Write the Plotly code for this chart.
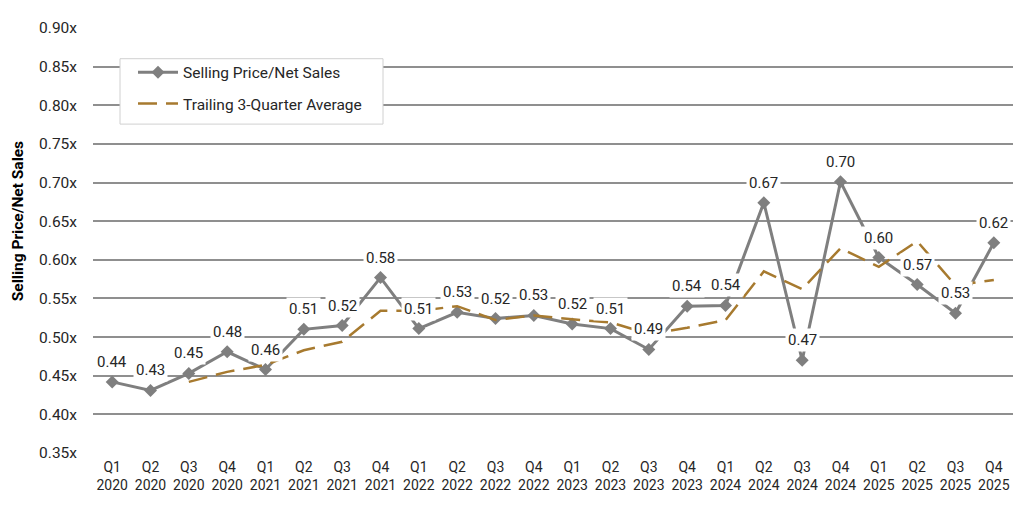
import plotly.graph_objects as go

quarters = ["Q1", "Q2", "Q3", "Q4"] * 6
years = ["2020"] * 4 + ["2021"] * 4 + ["2022"] * 4 + ["2023"] * 4 + ["2024"] * 4 + ["2025"] * 4
categories = [f"{q}<br>{y}" for q, y in zip(quarters, years)]

selling_price = [0.442, 0.431, 0.453, 0.481, 0.458, 0.510, 0.515, 0.577,
                 0.511, 0.532, 0.524, 0.528, 0.517, 0.511, 0.484, 0.540,
                 0.541, 0.674, 0.470, 0.701, 0.603, 0.568, 0.531, 0.622]

trailing_avg = [None, None, 0.442, 0.455, 0.464, 0.483, 0.494, 0.534,
                0.534, 0.540, 0.522, 0.528, 0.523, 0.519, 0.504, 0.512,
                0.522, 0.585, 0.562, 0.615, 0.591, 0.624, 0.567, 0.574]

point_labels = ["0.44", "0.43", "0.45", "0.48", "0.46", "0.51", "0.52", "0.58",
                "0.51", "0.53", "0.52", "0.53", "0.52", "0.51", "0.49", "0.54",
                "0.54", "0.67", "0.47", "0.70", "0.60", "0.57", "0.53", "0.62"]

y_ticks = [0.35, 0.40, 0.45, 0.50, 0.55, 0.60, 0.65, 0.70, 0.75, 0.80, 0.85, 0.90]
y_tick_labels = ["0.35x", "0.40x", "0.45x", "0.50x", "0.55x", "0.60x",
                 "0.65x", "0.70x", "0.75x", "0.80x", "0.85x", "0.90x"]

FONT = "Roboto"
GRID = "#8f8f8f"
GRAY = "#7f7f7f"
GOLD = "#a77a2f"
TEXT = "#262626"

PLOT_W, PLOT_H = 920, 429


def px_x(p):  # pixel offset from plot left -> paper
    return p / PLOT_W


def px_y(p):  # pixel offset from plot top -> paper
    return 1 - p / PLOT_H


fig = go.Figure()

fig.add_trace(go.Scatter(
    x=categories, y=selling_price, mode="lines+markers",
    name="Selling Price/Net Sales", legendgroup="a",
    line=dict(color=GRAY, width=3),
    marker=dict(symbol="diamond", size=10, color=GRAY),
))

fig.add_trace(go.Scatter(
    x=categories, y=trailing_avg, mode="lines",
    name="Trailing 3-Quarter Average", legendgroup="b",
    line=dict(color=GOLD, width=2.5, dash="19px,9px"),
))

for c, v, t in zip(categories, selling_price, point_labels):
    fig.add_annotation(
        x=c, y=v, text=t, showarrow=False, yshift=20,
        bgcolor="white", borderpad=2,
        font=dict(family=FONT, size=15, color=TEXT),
    )

# y-axis title
fig.add_annotation(
    xref="paper", yref="paper", x=px_x(-75), y=px_y(195),
    xanchor="center", yanchor="middle", textangle=-90, showarrow=False,
    text="Selling Price/Net Sales",
    font=dict(family=FONT, size=15.5, color="#000000", weight="bold"),
)

# legend frame
fig.add_shape(
    type="rect", xref="paper", yref="paper", layer="above",
    x0=px_x(27), x1=px_x(290), y0=px_y(97), y1=px_y(31),
    fillcolor="white", line=dict(color="#d0d0d0", width=1),
)

fig.update_layout(
    width=1016, height=502,
    margin=dict(l=85, r=11, t=16, b=57),
    paper_bgcolor="white", plot_bgcolor="white",
    font=dict(family=FONT, size=14, color=TEXT),
    showlegend=True,
    legend=dict(
        x=px_x(40), y=px_y(28), xanchor="left", yanchor="top",
        bgcolor="rgba(0,0,0,0)", borderwidth=0,
        font=dict(family=FONT, size=15.5, color=TEXT),
        traceorder="grouped", tracegroupgap=8, itemwidth=40,
    ),
    xaxis=dict(
        type="category", categoryorder="array", categoryarray=categories,
        range=[-0.5, 23.5], showgrid=False, showline=False,
        tickfont=dict(family=FONT, size=14, color=TEXT),
        ticks="", ticklabelstandoff=4,
    ),
    yaxis=dict(
        range=[0.35, 0.90], tickmode="array", tickvals=y_ticks, ticktext=y_tick_labels,
        showgrid=True, gridcolor=GRID, gridwidth=2, zeroline=False,
        showline=False, ticks="", ticklabelstandoff=15,
        tickfont=dict(family=FONT, size=15.5, color=TEXT),
    ),
)

fig.write_html("out.html")
